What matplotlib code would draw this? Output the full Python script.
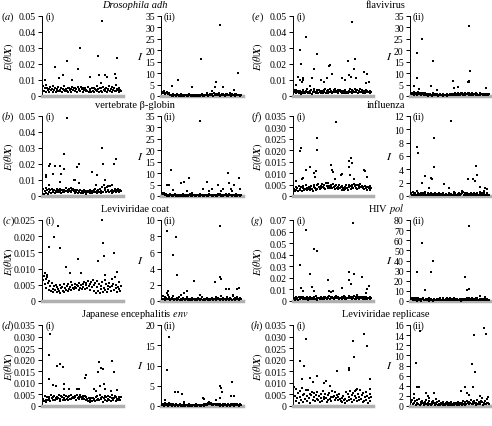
import numpy as np
import matplotlib
matplotlib.use('Agg')
import matplotlib.pyplot as plt
from matplotlib.ticker import FuncFormatter

plt.rcParams['font.family'] = ['Liberation Serif', 'DejaVu Serif']
plt.rcParams['mathtext.fontset'] = 'stix'

# ---- data ----
# (i) panels: E(theta|X) values in units of 1e-3 ; (ii) panels: I values
# band = dense points at each site index, o_x/o_y = the outlying points

# (a) Drosophila adh
a_i = [6.2,3.1,4.8,7.0,2.5,5.3,3.8,4.4,2.2,5.9,3.5,4.1,6.4,2.8,3.9,5.0,2.4,4.6,3.2,5.5,
       2.9,4.0,3.4,5.2,2.6,4.5,3.7,6.0,3.0,4.2,3.3,4.9,2.7,5.1,3.6,4.3,2.3,5.6,3.9,4.7,
       3.1,5.0,4.4,2.8,5.4,3.5,4.6,3.0,5.8,4.1,2.5,4.8,3.7,5.2,2.9,4.0,3.3,5.5,2.6,4.4,
       3.8,2.4,4.9,3.2,5.3,2.7,4.2,3.6,6.1,3.0,4.5,2.3,5.0,3.4,4.7,2.8,5.7,3.9,4.3,3.1,
       5.1,2.6,4.6,3.5,6.3,3.0,4.1,2.5,5.4,3.8,4.8,3.3,6.6,2.9,4.4,3.6,5.2,2.4,4.0,3.2]
a_i_ox = [2,15,20,25,30,37,44,47,59,70,71,75,73,79,81,91,92,94]
a_i_oy = [10,18,11,13,22,10,17,30,12,25,13,47,8,13,12,14,11,24]
a_ii = [1.8,1.2,2.0,0.9,1.5,1.1,1.9,0.7,1.4,1.0,0.3,0.6,0.2,0.8,0.1,0.4,0.5,0.2,1.0,0.3,
        0.6,0.1,0.4,0.2,0.7,0.3,0.1,0.5,0.2,0.4,0.6,0.1,0.3,0.2,0.8,0.4,0.1,0.3,0.5,0.2,
        0.4,0.1,0.6,0.3,0.2,0.5,0.1,0.4,0.2,0.3,0.7,0.1,0.4,0.2,0.6,0.3,1.2,0.5,0.2,0.4,
        0.8,0.3,1.0,0.6,0.2,1.1,0.4,0.7,0.3,0.9,0.5,1.3,0.2,0.6,0.4,0.8,0.3,1.0,0.5,0.2,
        0.7,0.4,0.9,0.3,0.6,1.1,0.2,0.5,0.8,0.3,0.4,0.7,0.2,0.9,0.5,0.3,0.6,0.4,0.2,0.5]
a_ii_ox = [12,20,38,49,62,66,68,72,77,90,95]
a_ii_oy = [4.5,7,4,16,2,4,6,31,4,2.5,10]

# (b) vertebrate beta-globin
b_i = [4.5,1.5,3.2,5.0,2.1,3.8,1.2,4.2,2.7,3.5,2.0,4.6,3.0,2.4,3.9,1.8,3.3,4.1,2.6,3.6,
       2.2,4.4,3.1,1.9,3.7,2.8,4.0,2.5,3.4,4.8,2.9,3.6,2.3,4.3,3.0,5.2,2.7,3.9,4.5,3.2,
       2.1,3.5,2.6,4.0,1.7,3.1,2.4,3.8,2.0,3.3,1.6,2.9,3.6,2.2,3.0,1.4,2.7,3.4,2.5,3.8,
       2.0,3.2,1.8,2.9,3.5,2.3,4.1,2.6,3.0,1.9,3.7,2.4,4.4,2.1,3.3,5.5,2.8,6.8,3.6,4.9,
       2.2,5.8,3.1,4.0,2.5,6.3,3.4,2.0,3.9,2.7,3.2,4.3,2.4,3.6,2.9,4.1,3.5,2.6,3.8,3.0]
b_i_ox = [3,4,8,9,7,13,15,21,21,23,26,27,30,39,41,43,45,46,62,69,67,75,76,78,82,87,90,93]
b_i_oy = [12,13,19,20,7,14,19,19,9,14,26,17,49,10,10,18,8,20,15,13,7,30,20,10,6,7,20,23]
b_ii = [1.5,0.8,1.2,0.5,0.3,0.9,0.2,0.6,0.4,0.1,0.7,0.3,0.2,0.5,0.1,0.4,0.8,0.2,0.3,0.6,
        0.1,0.4,0.2,0.5,0.3,0.1,0.7,0.2,0.4,0.3,0.1,0.6,0.2,0.5,0.3,0.9,0.1,0.4,0.2,0.3,
        0.6,0.1,0.3,0.2,0.5,0.4,0.1,0.2,0.7,0.3,0.4,0.1,0.5,0.2,0.3,0.6,0.1,0.4,0.2,0.8,
        0.3,0.5,0.1,0.4,0.2,0.6,0.3,0.1,0.5,0.2,0.9,0.4,0.3,0.7,0.1,0.5,0.2,0.4,0.6,0.3,
        0.8,0.2,0.5,0.1,0.7,0.3,0.4,0.6,0.2,0.5,0.3,0.1,0.4,0.7,0.2,0.5,0.3,0.6,0.2,0.4]
b_ii_ox = [6,9,11,13,23,27,34,31,37,47,51,56,59,63,70,74,77,83,84,86,90,88,97,98]
b_ii_oy = [5,5,11.5,2.5,5.5,6,8,2,1.5,33,3,6,2,3,5,2,3,10,5.5,3,5,2,8,3]

# (c) Leviviridae coat
c_i = [6.5,7.8,5.2,6.9,4.1,7.3,5.6,3.4,6.1,4.7,3.0,5.5,3.8,2.9,4.5,3.3,5.0,2.7,4.2,3.6,
       3.1,4.8,2.6,3.9,4.4,3.2,5.1,2.8,4.0,3.5,4.6,3.0,5.3,3.7,4.2,5.8,3.4,4.9,4.1,3.6,
       5.4,4.3,3.9,5.0,4.6,3.3,5.7,4.0,4.8,3.8,5.2,4.4,6.0,3.6,4.9,5.5,4.1,6.3,4.7,5.1,
       3.5,5.9,4.4,6.6,5.0,3.2,5.6,2.6,4.3,6.1,3.0,5.3,2.4,4.7,3.6,5.8,2.9,4.0,6.4,3.3,
       5.1,2.7,4.5,3.8,5.6,4.2,3.1,6.8,4.6,5.3,3.5,7.4,4.0,5.0,2.8,4.4,3.7,5.8,3.2,4.6]
c_i_ox = [2,5,8,14,19,21,29,34,44,48,70,75,76,77,79,90,94]
c_i_oy = [8.5,8,16.8,19.7,23,16.5,10.5,8.5,13,8.5,12.5,25,18,14,8,14.8,9]
c_ii = [0.3,0.6,0.2,0.5,0.1,0.4,0.3,0.7,0.2,0.5,0.1,0.3,0.4,0.2,0.6,0.1,0.3,0.2,0.4,0.1,
        0.2,0.5,0.1,0.3,0.2,0.1,0.4,0.2,0.3,0.1,0.2,0.5,0.1,0.2,0.3,0.1,0.2,0.4,0.1,0.3,
        0.2,0.1,0.3,0.2,0.1,0.4,0.2,0.1,0.3,0.2,0.5,0.1,0.2,0.3,0.1,0.2,0.4,0.1,0.3,0.2,
        0.1,0.3,0.2,0.4,0.1,0.2,0.3,0.5,0.1,0.2,0.4,0.2,0.1,0.3,0.6,0.2,0.1,0.4,0.2,0.3,
        0.1,0.2,0.5,0.3,0.1,0.4,0.2,0.3,0.1,0.6,0.2,0.4,0.1,0.3,0.5,0.2,0.1,0.3,0.4,0.2]
c_ii_ox = [6,7,6,14,17,18,23,28,31,40,47,66,72,73,74,80,84,89,94,96]
c_ii_oy = [1.0,1.2,8.6,5.7,7.9,3.2,0.8,1.0,1.2,2.5,0.8,2.3,9.3,3.0,2.7,1.5,1.5,0.7,1.5,1.6]

# (d) Japanese encephalitis env
d_i = [3.2,2.1,4.5,2.6,1.8,3.8,2.4,4.1,3.0,2.2,4.8,3.5,2.7,3.9,4.4,2.5,3.3,4.0,2.9,3.6,
       4.6,2.3,3.1,4.2,3.7,2.8,4.9,3.4,2.6,4.3,3.0,3.8,2.4,4.5,3.2,4.7,2.9,3.6,4.1,3.3,
       4.4,3.9,2.7,4.6,3.5,4.0,3.1,4.8,3.7,2.9,4.2,3.4,3.0,4.5,2.6,3.8,3.2,2.2,3.5,1.9,
       2.8,3.3,2.0,3.6,2.5,3.0,2.1,3.9,2.7,4.3,3.1,2.4,4.6,3.5,2.9,4.0,1.7,3.4,4.2,2.6,
       3.8,2.3,4.5,3.0,2.8,4.1,2.2,3.6,4.7,2.5,3.3,4.4,2.0,3.9,3.1,2.7,4.0,3.5,2.4,3.7]
d_i_ox = [7,9,8,13,16,17,21,25,26,27,33,43,45,53,55,65,67,70,71,74,76,77,79,72,88,90,86,94]
d_i_oy = [11.5,31,22,9,8.5,17.5,18,16.8,9.5,7.5,7.5,7.5,7.2,12,13.5,7.5,6.5,14.5,19,16.5,
          16,9.5,7.5,8.5,19.5,14.5,6.5,7]
d_ii = [0.2,0.6,0.1,0.4,0.8,0.2,0.5,0.1,0.3,0.7,0.2,0.4,0.1,0.3,0.5,0.2,0.1,0.4,0.2,0.3,
        0.1,0.2,0.5,0.1,0.3,0.2,0.1,0.4,0.2,0.1,0.3,0.2,0.1,0.2,0.4,0.1,0.3,0.2,0.1,0.2,
        0.3,0.1,0.2,0.4,0.1,0.2,0.3,0.1,0.2,0.1,0.3,0.2,0.1,0.4,0.2,0.6,0.3,0.8,0.4,0.9,
        0.5,0.7,0.3,0.6,0.2,0.5,0.4,0.3,0.6,0.2,0.5,0.3,0.1,0.4,0.2,0.3,0.1,0.5,0.2,0.4,
        0.3,0.1,0.2,0.5,0.3,0.1,0.4,0.2,0.3,0.6,0.1,0.2,0.4,0.3,0.5,0.2,0.1,0.3,0.4,0.2]
d_ii_ox = [3,6,8,16,20,25,27,51,52,68,72,74,75,73,86,88,90]
d_ii_oy = [1.5,9,17,3.5,3.5,3,1,2,1.8,1.5,5,4.5,3.5,2,2.5,6,2.5]

# (e) flavivirus
e_i = [2.5,3.8,1.6,2.9,2.2,3.4,1.9,2.7,3.1,1.4,2.4,3.6,2.0,2.8,1.7,3.3,2.3,4.2,1.8,2.6,
       3.0,2.1,3.9,1.5,2.5,3.2,4.6,2.2,1.8,3.5,2.7,2.0,4.0,2.4,1.6,3.1,2.9,1.9,3.7,2.3,
       4.4,2.1,3.0,1.7,3.6,2.5,4.1,2.8,3.3,1.9,2.6,3.8,2.2,4.5,3.0,2.4,3.5,1.8,2.9,4.0,
       2.3,3.4,2.0,3.1,1.6,2.7,3.6,2.1,2.5,1.8,3.0,2.2,4.3,2.6,3.9,2.0,3.3,2.8,4.6,3.1,
       2.4,3.7,2.0,3.2,2.7,4.1,2.3,3.5,1.9,2.9,3.4,2.1,3.8,2.6,3.0,2.2,2.8,3.3,2.0,2.5]
e_i_ox = [2,2,5,7,8,9,10,12,15,12,20,23,26,30,35,39,42,45,46,49,62,66,69,71,75,73,78,77,
          79,90,94,92,96]
e_i_oy = [4,7,12,10,29,20,9,10,37,11,6,11,17,26,10,9,11,19,19.5,14,11,10,22,13,46,12,23,
          17,11,15,14,8,9]
e_ii = [1.5,0.8,1.2,0.4,1.7,0.9,1.3,0.6,1.0,1.6,0.7,1.1,0.5,1.4,0.8,1.2,0.3,0.9,1.3,0.5,
        1.0,0.2,0.7,0.4,0.9,0.3,0.6,0.2,1.1,0.4,0.8,0.3,0.5,0.7,0.2,0.6,0.4,0.9,0.3,0.5,
        0.2,0.8,0.4,0.6,0.3,0.2,0.7,0.5,0.3,0.9,0.4,0.6,1.0,0.5,0.8,0.3,1.2,0.6,0.9,0.4,
        1.3,0.7,0.5,1.1,0.8,1.4,0.6,1.0,0.4,1.2,0.9,0.7,1.5,0.5,1.1,0.8,0.6,1.3,0.9,0.4,
        1.0,0.7,1.2,0.5,0.8,0.3,0.6,1.1,0.4,0.9,0.7,0.5,1.0,0.3,0.8,0.6,0.4,0.9,0.5,0.7]
e_ii_ox = [3,7,8,14,10,25,28,33,53,55,60,72,73,73,75,74,95]
e_ii_oy = [4.5,19,8,25,3,4.5,15.5,2.5,6.5,3.5,4,6,6.5,30.5,11,6,3.5]

# (f) influenza
f_i = [3.2,2.4,4.0,2.8,3.6,2.2,4.5,3.0,2.6,3.8,2.3,4.2,3.4,2.7,3.1,4.8,2.5,3.7,2.9,4.1,
       3.3,2.6,4.4,3.0,2.4,3.9,5.0,3.5,2.8,4.6,3.2,5.3,3.8,2.9,4.3,3.6,5.1,4.0,3.4,4.7,
       3.1,5.5,4.2,3.7,5.8,4.5,3.3,4.9,4.1,3.6,5.2,3.9,4.4,3.0,4.8,3.5,4.0,2.9,4.6,3.3,
       3.8,2.7,4.3,3.4,2.6,4.0,3.1,4.7,3.6,2.8,5.0,3.9,4.4,3.2,4.8,4.1,3.5,5.2,4.3,3.7,
       4.6,3.0,4.9,4.2,3.4,5.1,3.8,4.5,3.3,4.0,2.9,4.4,3.6,4.1,2.7,3.9,3.3,4.2,2.8,3.5]
f_i_ox = [2,8,9,10,12,15,21,25,27,28,30,29,54,48,49,50,52,60,61,70,73,71,75,72,77,90,91,94]
f_i_oy = [6.5,19.5,21,7.5,8,11.5,12.5,10,8.5,11,25.5,20,32.5,13.5,11.5,10.5,7.5,9,9.5,
          15.5,16.5,12.5,14.5,9,7.5,11.5,11,8.5]
f_ii = [0.4,0.2,0.6,0.1,0.3,0.5,0.2,0.7,0.1,0.4,0.2,0.3,0.1,0.5,0.2,0.4,0.1,0.3,0.6,0.2,
        0.1,0.4,0.2,0.3,0.1,0.5,0.2,0.1,0.3,0.2,0.4,0.1,0.2,0.3,0.1,0.2,0.5,0.1,0.3,0.2,
        0.1,0.4,0.2,0.1,0.3,0.2,0.1,0.2,0.4,0.1,0.3,0.2,0.1,0.2,0.3,0.1,0.4,0.2,0.1,0.3,
        0.2,0.5,0.1,0.3,0.7,0.4,0.6,0.2,0.5,0.3,0.1,0.4,0.2,0.3,0.1,0.2,0.4,0.1,0.3,0.2,
        0.5,0.1,0.3,0.2,0.4,0.1,0.2,0.6,0.3,0.1,0.4,0.2,0.5,0.3,0.1,0.2,0.4,0.3,0.1,0.2]
f_ii_ox = [8,9,14,18,25,26,23,29,29,42,51,48,55,72,79,81,83,84,88,94,96,92]
f_ii_oy = [7.3,6.5,2,3,2.7,2.5,1.2,8.7,4.4,1.8,11.3,1.2,0.6,2.6,2.5,2.3,4.5,3.2,1.3,1.2,1.0,0.7]

# (g) HIV pol
g_i = [2.5,1.2,3.4,1.8,2.9,1.0,3.8,2.2,1.5,3.1,2.6,1.3,3.6,2.0,2.8,1.6,3.2,2.4,1.1,3.0,
       2.1,3.5,1.7,2.7,1.4,3.3,2.3,1.9,3.9,2.5,1.2,3.0,2.2,1.6,2.8,3.7,1.8,2.4,3.2,2.0,
       3.6,2.6,1.5,3.4,2.9,4.0,2.1,3.3,2.7,3.8,2.3,1.9,3.5,2.8,4.2,3.0,2.4,3.6,1.7,2.9,
       2.2,3.1,1.4,2.6,3.9,2.0,3.2,1.6,2.8,2.3,4.4,3.0,2.5,3.7,1.8,3.3,2.7,4.1,2.1,3.4,
       1.5,2.9,3.6,2.2,1.3,3.1,2.6,3.8,1.9,2.4,3.3,1.7,2.8,3.5,2.0,3.0,2.5,1.6,3.2,2.3]
g_i_ox = [8,9,11,15,20,23,25,26,30,43,45,48,50,62,70,71,73,76,77,81,87,94,96,92]
g_i_oy = [31,11,9,61,23,12,9,45,43,18,9,8,9,11,18,25,15,67,23,5,21,10,13,7]
g_ii = [1.5,2.8,0.6,2.0,3.2,1.0,2.5,0.4,1.8,3.0,0.8,2.2,1.2,0.3,1.6,2.7,0.9,1.4,0.5,2.1,
        1.1,0.6,1.7,0.3,1.3,2.4,0.7,1.0,0.4,1.9,0.8,1.2,0.5,2.0,0.9,1.5,0.6,2.6,1.1,0.7,
        1.8,2.9,1.4,0.8,2.3,1.0,3.1,1.6,0.9,2.5,1.2,2.0,0.6,1.7,2.8,1.3,2.2,0.9,1.5,0.5,
        1.1,0.7,1.9,0.4,1.3,2.1,0.8,1.6,0.5,2.4,1.0,3.0,1.4,2.7,0.9,2.0,1.2,3.3,1.7,0.8,
        2.2,1.1,2.6,0.6,1.8,1.3,0.7,2.3,1.0,1.6,0.5,2.0,1.4,0.8,1.9,1.2,0.6,1.5,1.0,0.7]
g_ii_ox = [7,14,18,25,28,23,68,71,73,73,88,94,84]
g_ii_oy = [29,57,11,29,40,3,24,11,12,74,5,4,3]

# (h) Leviviridae replicase
h_i = [8.0,4.5,2.0,7.2,3.3,5.8,1.2,6.5,3.9,2.6,7.6,4.8,1.8,5.4,3.0,6.8,2.3,4.2,7.0,3.6,
       5.1,1.5,4.6,6.2,2.8,3.8,5.7,2.1,4.9,3.2,6.0,2.5,4.3,1.9,5.3,3.5,2.2,6.6,4.0,2.9,
       5.0,3.4,1.7,4.7,2.4,5.6,3.1,4.1,2.0,6.3,3.7,4.5,2.7,5.9,3.3,4.8,2.6,4.0,5.4,3.0,
       2.2,3.6,1.6,4.4,2.5,1.3,3.2,6.0,2.1,5.2,3.8,2.4,6.4,3.0,4.6,1.9,5.7,2.8,4.2,6.8,
       3.4,2.0,5.1,4.0,2.6,7.0,3.1,4.8,1.8,5.5,2.3,3.9,6.2,2.7,4.4,1.5,3.6,5.0,2.2,4.1]
h_i_ox = [8,10,13,15,21,24,30,39,41,46,55,70,71,76,77,78,81,90,94,98,97]
h_i_oy = [19.5,11.5,17.5,29,12,10.5,13,10,11,8.5,15,15.5,16.5,28,21,6.5,7.5,31,26,11.5,7.5]
h_ii = [0.8,1.2,0.3,1.5,0.5,0.9,0.2,1.1,0.6,0.4,1.3,0.2,0.7,0.3,1.0,0.5,0.2,0.8,0.4,1.2,
        0.3,0.6,0.1,0.9,0.4,0.2,0.7,0.3,1.0,0.5,0.2,0.6,0.3,0.8,0.1,0.4,0.9,0.2,0.5,0.3,
        0.7,0.2,0.4,0.1,0.6,0.3,0.8,0.2,0.5,0.1,0.3,0.7,0.2,0.4,0.6,0.1,0.3,0.5,0.2,0.8,
        0.4,0.2,0.6,0.3,0.1,0.5,0.9,0.3,0.7,0.2,0.4,1.0,0.6,0.3,0.8,0.5,1.2,0.4,0.7,0.3,
        0.9,0.5,0.2,0.6,1.1,0.4,0.8,0.3,0.5,1.0,0.7,0.2,0.6,0.4,0.9,0.3,0.5,1.3,0.6,0.4]
h_ii_ox = [3,6,8,11,10,19,21,23,29,31,63,68,71,73,77,78,81,80,88,90,93,95,98]
h_ii_oy = [2.3,8.5,3.8,14.8,3.8,2.5,2,1.5,2.5,1.3,3,3.8,2.5,2.2,8.2,3.7,6.8,14.1,2,1.5,
           15.4,14.3,1.8]

titles = ['Drosophila adh', 'vertebrate β-globin', 'Leviviridae coat',
          'Japanese encephalitis $\\it{env}$', 'flavivirus', 'influenza', 'HIV $\\it{pol}$',
          'Leviviridae replicase']
title_style = ['italic', 'normal', 'normal', 'normal', 'normal', 'normal', 'normal', 'normal']
letters = ['a', 'b', 'c', 'd', 'e', 'f', 'g', 'h']
# y axis: (max, step, decimals) for (i) and (max, step) for (ii)
i_axis = [(0.05, 0.01, 2), (0.05, 0.01, 2), (0.025, 0.005, 3), (0.035, 0.005, 3),
          (0.05, 0.01, 2), (0.035, 0.005, 3), (0.07, 0.01, 2), (0.035, 0.005, 3)]
ii_axis = [(35, 5), (35, 5), (10, 2), (20, 5), (35, 5), (12, 2), (80, 10), (16, 2)]

data_i = [(a_i, a_i_ox, a_i_oy), (b_i, b_i_ox, b_i_oy), (c_i, c_i_ox, c_i_oy),
          (d_i, d_i_ox, d_i_oy), (e_i, e_i_ox, e_i_oy), (f_i, f_i_ox, f_i_oy),
          (g_i, g_i_ox, g_i_oy), (h_i, h_i_ox, h_i_oy)]
data_ii = [(a_ii, a_ii_ox, a_ii_oy), (b_ii, b_ii_ox, b_ii_oy), (c_ii, c_ii_ox, c_ii_oy),
           (d_ii, d_ii_ox, d_ii_oy), (e_ii, e_ii_ox, e_ii_oy), (f_ii, f_ii_ox, f_ii_oy),
           (g_ii, g_ii_ox, g_ii_oy), (h_ii, h_ii_ox, h_ii_oy)]

# ---- layout (pixels) ----
W, H = 492, 427
fig = plt.figure(figsize=(W / 100, H / 100), dpi=100)

rows = [(17, 97), (117, 197), (221, 302), (326, 407)]
cols = [dict(i=(42, 123), ii=(161, 243), letter=8, ylab=9, I=140, title=135),
        dict(i=(293, 373), ii=(410, 491), letter=257, ylab=258, I=389, title=386)]
FS = 7


def ftext(x, y, s, **kw):
    fig.text(x / W, 1 - y / H, s, **kw)


def make_ax(xr, yr):
    return fig.add_axes([xr[0] / W, 1 - yr[1] / H, (xr[1] - xr[0]) / W, (yr[1] - yr[0]) / H])


def draw_sub(ax, band, ox, oy, ymax, step, dec, scale):
    x = np.arange(len(band))
    ax.scatter(x, np.array(band) * scale, s=2.2, c='k', marker='s', linewidths=0,
               clip_on=False, zorder=3)
    ax.scatter(ox, np.array(oy) * scale, s=2.2, c='k', marker='s', linewidths=0,
               clip_on=False, zorder=3)
    ax.set_xlim(-1.5, len(band) + 1.5)
    ax.set_ylim(0, ymax)
    ax.set_yticks(np.arange(0, ymax + step / 2, step))
    ax.yaxis.set_major_formatter(
        FuncFormatter(lambda v, p: '0' if abs(v) < 1e-12 else f'{v:.{dec}f}'))
    ax.set_xticks([])
    ax.spines['top'].set_visible(False)
    ax.spines['right'].set_visible(False)
    ax.spines['left'].set_linewidth(0.7)
    ax.spines['bottom'].set_color('#b0b0b0')
    ax.spines['bottom'].set_linewidth(2.5)
    ax.tick_params(axis='y', direction='out', length=3, width=0.7, labelsize=FS, pad=1.5)
    ax.patch.set_alpha(0)


for k in range(8):
    col = cols[k // 4]
    yr = rows[k % 4]
    ymid = (yr[0] + yr[1]) / 2

    ax1 = make_ax(col['i'], yr)
    band, ox, oy = data_i[k]
    ymax, step, dec = i_axis[k]
    draw_sub(ax1, band, ox, oy, ymax, step, dec, 1e-3)

    ax2 = make_ax(col['ii'], yr)
    band, ox, oy = data_ii[k]
    ymax, step = ii_axis[k]
    draw_sub(ax2, band, ox, oy, ymax, step, 0, 1.0)

    ftext(col['i'][0] + 4, yr[0], '(i)', fontsize=FS, va='center')
    ftext(col['ii'][0] + 3, yr[0], '(ii)', fontsize=FS, va='center')
    ftext(col['letter'], yr[0], '($%s$)' % letters[k], fontsize=FS + 0.5, va='center', ha='center')
    ftext(col['ylab'], ymid, r'$E(\theta|\mathbfit{X})$', fontsize=FS + 0.5, rotation=90,
          va='center', ha='center')
    ftext(col['I'], ymid, '$I$', fontsize=FS + 1.5, va='center', ha='center')
    ftext(col['title'], yr[0] - 11.5, titles[k], fontsize=FS + 0.5, va='center', ha='center',
          style=title_style[k])

fig.savefig('out.png', dpi=100)
